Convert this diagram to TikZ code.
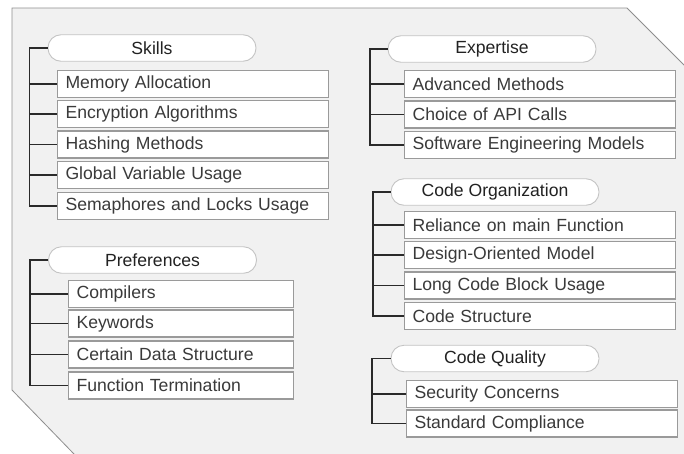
\documentclass[tikz,border=0pt]{standalone}
\usepackage{fontspec}
\setmainfont{Liberation Sans}
\begin{document}
\definecolor{panelfill}{HTML}{F1F1F1}
\definecolor{panelline}{HTML}{8E8E8E}
\definecolor{pillline}{HTML}{C4C4C4}
\definecolor{boxline}{HTML}{9A9A9A}
\definecolor{itemtext}{HTML}{3A3A3A}
\definecolor{headtext}{HTML}{222222}
\definecolor{trunkcol}{HTML}{2A2A2A}
\begin{tikzpicture}[x=1pt,y=-1pt,
  pill/.style={draw=pillline, line width=0.9pt, fill=white, rounded corners=13pt,
    minimum width=208pt, minimum height=26.5pt, inner sep=0pt,
    font=\fontsize{17.6}{20}\selectfont, text=headtext},
  item/.style={draw=boxline, line width=1.1pt, fill=white, anchor=west,
    minimum height=27pt, inner xsep=8pt, inner ysep=0pt, align=left,
    font=\fontsize{17.6}{20}\selectfont, text=itemtext},
  wide/.style={item, text width=255pt},
  narrow/.style={item, text width=209pt},
  trunk/.style={draw=trunkcol, line width=1.4pt}]
\useasboundingbox (0,0) rectangle (684,453);
\begin{scope}
\clip (0,0) rectangle (684,453);
% panel with two cut corners; its right and lower edges run off the page
\draw[panelline, fill=panelfill, line width=0.8pt]
  (12,8) -- (627,8) -- (692,73) -- (692,470) -- (89.5,470) -- (12,390) -- cycle;
\end{scope}

% ---------- Skills ----------
\node[pill] (skills) at (152,48) {Skills};
\node[wide] (sk1) at (57,84)  {Memory Allocation};
\node[wide] (sk2) at (57,114) {Encryption Algorithms};
\node[wide] (sk3) at (57,144.5) {Hashing Methods};
\node[wide] (sk4) at (57,175) {Global Variable Usage};
\node[wide] (sk5) at (57,206) {Semaphores and Locks Usage};
\coordinate (tsk) at (29.5,48);
\draw[trunk] (skills.west) -- (tsk) |- (sk5.west);
\foreach \n in {sk1,sk2,sk3,sk4} \draw[trunk] (\n.west -| tsk) -- (\n.west);

% ---------- Preferences ----------
\node[pill] (pref) at (152.5,260) {Preferences};
\node[narrow] (pr1) at (68,294)   {Compilers};
\node[narrow] (pr2) at (68,323.5) {Keywords};
\node[narrow] (pr3) at (68,354.5) {Certain Data Structure};
\node[narrow] (pr4) at (68,385.5) {Function Termination};
\coordinate (tpr) at (30,260);
\draw[trunk] (pref.west) -- (tpr) |- (pr4.west);
\foreach \n in {pr1,pr2,pr3} \draw[trunk] (\n.west -| tpr) -- (\n.west);

% ---------- Expertise ----------
\node[pill] (exp) at (492,49) {Expertise};
\node[wide] (ex1) at (404,84)  {Advanced Methods};
\node[wide] (ex2) at (404,114.5) {Choice of API Calls};
\node[wide] (ex3) at (404,145) {Software Engineering Models};
\coordinate (tex) at (370,49);
\draw[trunk] (exp.west) -- (tex) |- (ex3.west);
\foreach \n in {ex1,ex2} \draw[trunk] (\n.west -| tex) -- (\n.west);

% ---------- Code Organization ----------
\node[pill] (org) at (495,192) {Code Organization};
\node[wide] (or1) at (404,225) {Reliance on main Function};
\node[wide] (or2) at (404,255) {Design-Oriented Model};
\node[wide] (or3) at (404,285.5) {Long Code Block Usage};
\node[wide] (or4) at (404,316) {Code Structure};
\coordinate (tor) at (373,192);
\draw[trunk] (org.west) -- (tor) |- (or4.west);
\foreach \n in {or1,or2,or3} \draw[trunk] (\n.west -| tor) -- (\n.west);

% ---------- Code Quality ----------
\node[pill] (qual) at (495,358.5) {Code Quality};
\node[wide] (qu1) at (406,394) {Security Concerns};
\node[wide] (qu2) at (406,423.5) {Standard Compliance};
\coordinate (tqu) at (372,358.5);
\draw[trunk] (qual.west) -- (tqu) |- (qu2.west);
\draw[trunk] (qu1.west -| tqu) -- (qu1.west);
\end{tikzpicture}
\end{document}
